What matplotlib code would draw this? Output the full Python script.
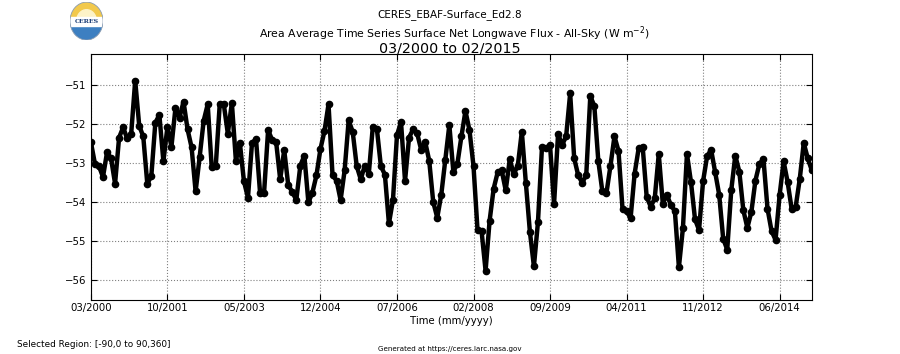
import numpy as np
import matplotlib
matplotlib.use('Agg')
import matplotlib.pyplot as plt
from matplotlib.patches import Wedge, Rectangle, Ellipse

plt.rcParams['font.family'] = ['DejaVu Sans']

# monthly values, 03/2000 .. 02/2015
flux = [
    -52.46, -53.01, -53.07, -53.35, -52.72, -52.87, -53.52, -52.34, -52.08, -52.36,
    -52.25, -50.88, -52.04, -52.31, -53.52, -53.33, -51.96, -51.76, -52.95, -52.07,
    -52.57, -51.58, -51.83, -51.42, -52.13, -52.59, -53.72, -52.84, -51.91, -51.49,
    -53.10, -53.07, -51.47, -51.49, -52.24, -51.45, -52.93, -52.49, -53.46, -53.88,
    -52.48, -52.38, -53.75, -53.75, -52.15, -52.40, -52.46, -53.41, -52.66, -53.56,
    -53.73, -53.94, -53.06, -52.80, -54.00, -53.75, -53.31, -52.63, -52.17, -51.49,
    -53.31, -53.44, -53.94, -53.18, -51.90, -52.19, -53.07, -53.41, -53.06, -53.27,
    -52.06, -52.11, -53.07, -53.29, -54.54, -53.94, -52.28, -51.94, -53.45, -52.34,
    -52.13, -52.23, -52.65, -52.45, -52.93, -53.99, -54.39, -53.80, -52.91, -52.02,
    -53.21, -53.01, -52.31, -51.66, -52.15, -53.07, -54.71, -54.73, -55.75, -54.47,
    -53.65, -53.23, -53.18, -53.69, -52.90, -53.27, -53.06, -52.19, -53.50, -54.75,
    -55.64, -54.51, -52.59, -52.62, -52.53, -54.05, -52.24, -52.53, -52.31, -51.21,
    -52.87, -53.31, -53.50, -53.29, -51.28, -51.53, -52.95, -53.72, -53.77, -53.07,
    -52.31, -52.68, -54.17, -54.22, -54.41, -53.27, -52.62, -52.57, -53.86, -54.11,
    -53.90, -52.76, -54.03, -53.80, -54.07, -54.22, -55.66, -54.66, -52.76, -53.48,
    -54.43, -54.71, -53.46, -52.82, -52.65, -53.23, -53.80, -54.93, -55.21, -53.69,
    -52.80, -53.21, -54.20, -54.65, -54.24, -53.44, -53.01, -52.89, -54.16, -54.73,
    -54.96, -53.82, -52.95, -53.48, -54.17, -54.11, -53.41, -52.48, -52.87, -53.18,
]
tick_labels = ['03/2000', '10/2001', '05/2003', '12/2004', '07/2006',
               '02/2008', '09/2009', '04/2011', '11/2012', '06/2014']
y_ticks = [-51, -52, -53, -54, -55, -56]

months = np.arange(len(flux))

fig = plt.figure(figsize=(9, 3.54), dpi=100)
ax = fig.add_axes([0.101, 0.1525, 0.801, 0.695])

ax.plot(months, flux, color='black', linewidth=3.2, marker='o', markersize=4.5)

ax.set_xlim(0, len(flux) - 1)
ax.set_ylim(-56.5, -50.2)
ax.set_xticks(months[::19])
ax.set_xticklabels(tick_labels)
ax.set_yticks(y_ticks)
ax.tick_params(direction='in', top=True, right=True, length=4, labelsize=7.3)
ax.tick_params(axis='x', pad=2.5)
ax.grid(True, linestyle=':', color='gray', linewidth=0.8)
ax.set_xlabel('Time (mm/yyyy)', fontsize=7.3, labelpad=1.5)

fig.text(0.5, 0.951, 'CERES_EBAF-Surface_Ed2.8', ha='center', va='baseline', fontsize=7.5)
fig.text(0.505, 0.895, 'Area Average Time Series Surface Net Longwave Flux - All-Sky (W m$^{-2}$)',
         ha='center', va='baseline', fontsize=7.8)
fig.text(0.5, 0.853, '03/2000 to 02/2015', ha='center', va='baseline', fontsize=10.3)
fig.text(0.019, 0.028, 'Selected Region: [-90,0 to 90,360]', ha='left', va='center', fontsize=6.4)
fig.text(0.5, 0.014, 'Generated at https://ceres.larc.nasa.gov', ha='center', va='center', fontsize=5.1)

# rough CERES logo
logo = fig.add_axes([0.0778, 0.887, 0.0367, 0.107])
logo.set_xlim(-1, 1)
logo.set_ylim(-1, 1)
logo.axis('off')
clip = Ellipse((0, 0), 2, 2, transform=logo.transData)
for patch in [Wedge((0, 0), 1.5, 0, 180, color='#f2c94c'),
              Wedge((0, 0), 0.6, 0, 180, color='#fdf3c8'),
              Wedge((0, 0), 1.5, 180, 360, color='#3d7fc1'),
              Rectangle((-1, -0.25), 2, 0.45, color='white')]:
    logo.add_patch(patch)
    patch.set_clip_path(clip)
logo.add_patch(Ellipse((0, 0), 2, 2, fill=False, edgecolor='#8a9bb0', linewidth=0.6))
logo.text(0, -0.02, 'CERES', ha='center', va='center', fontsize=4.5, color='#1d3f78',
          fontweight='bold', family='DejaVu Serif')

fig.savefig('out.png', dpi=100)
